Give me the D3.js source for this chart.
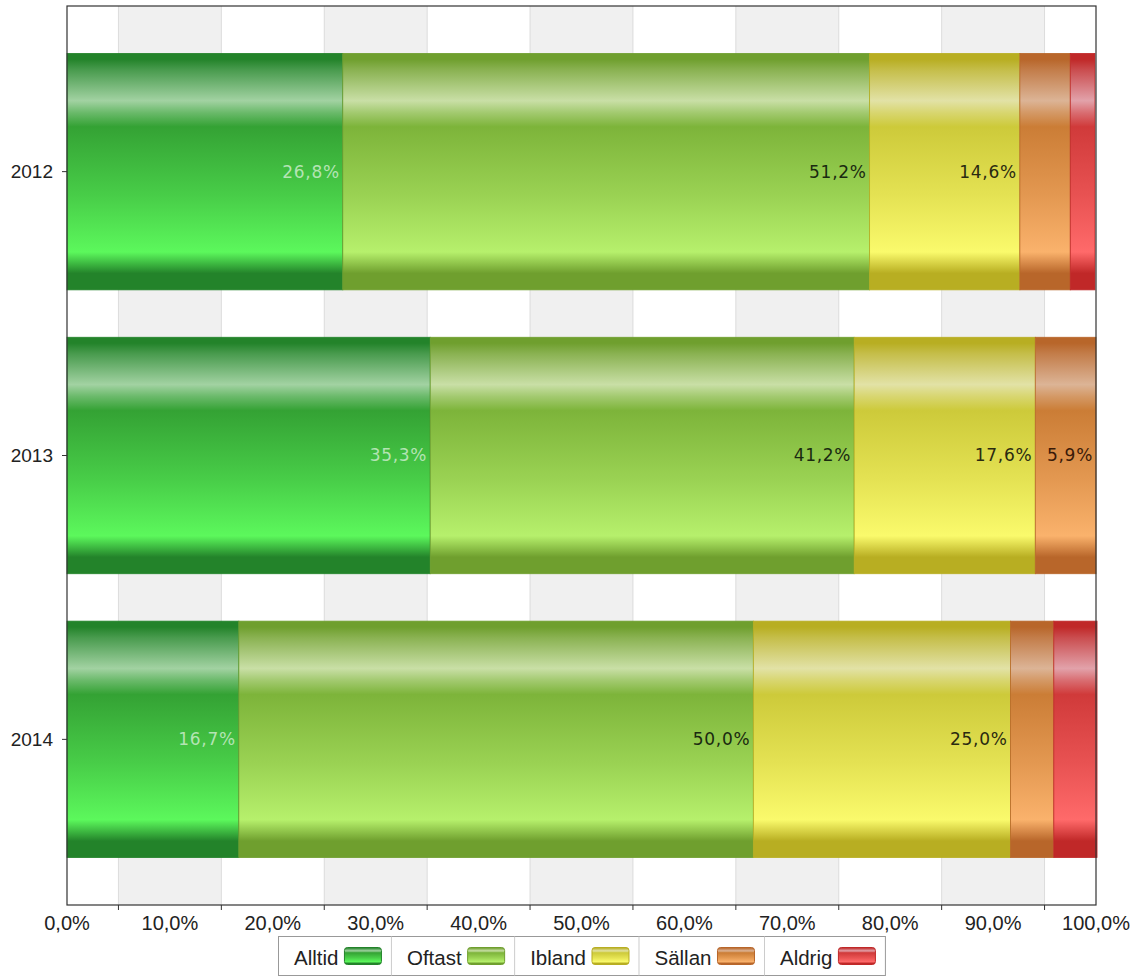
<!DOCTYPE html>
<html>
<head>
<meta charset="utf-8">
<script src="https://cdn.jsdelivr.net/npm/d3@7"></script>
<style>
  body { margin: 0; background: #fff; }
  svg { display: block; }
</style>
</head>
<body>
<div id="chart"></div>
<script>
const years = ["2012", "2013", "2014"]
const series = ["Alltid", "Oftast", "Ibland", "Sällan", "Aldrig"]
// share in percent, one array per answer
const alltid = [26.8, 35.3, 16.7]
const oftast = [51.2, 41.2, 50.0]
const ibland = [14.6, 17.6, 25.0]
const sallan = [4.9, 5.9, 4.2]
const aldrig = [2.4, 0.0, 4.2]
const xTicks = [0, 10, 20, 30, 40, 50, 60, 70, 80, 90, 100]

const values = [alltid, oftast, ibland, sallan, aldrig]

// edge, highlight, mid, bright, label colour
const SERIES_COLORS = [
    ["#23832a", "#a2d2a2", "#34a234", "#5cf85c", "#b4e4b4"],
    ["#6f9f2e", "#c9dfa6", "#7db43a", "#b6f06c", "#1a2a10"],
    ["#b8ae22", "#e2e2a6", "#cdca3a", "#fafa6c", "#2a2a10"],
    ["#b8662a", "#dcb496", "#cb7d36", "#fab26c", "#3a1a08"],
    ["#c02828", "#e2a2aa", "#d03a3a", "#ff6a6a", "#2a0a0a"]
]

const WIDTH = 1135
const HEIGHT = 976
const margin = {top: 6, right: 39, bottom: 71, left: 67}
const plotW = WIDTH - margin.left - margin.right
const plotH = HEIGHT - margin.top - margin.bottom

const svg = d3.select("#chart").append("svg")
    .attr("width", WIDTH)
    .attr("height", HEIGHT)

const defs = svg.append("defs")

function makeGradient(id, c) {
    let g = defs.append("linearGradient")
        .attr("id", id)
        .attr("x1", 0).attr("y1", 0).attr("x2", 0).attr("y2", 1)
    let mix = (a, b, t) => d3.interpolateRgb(a, b)(t)
    let stops = [
        [0, c[0]], [0.025, c[0]], [0.07, mix(c[0], c[1], 0.3)], [0.2, c[1]],
        [0.25, mix(c[1], c[2], 0.5)], [0.31, c[2]],
        [0.6, mix(c[2], c[3], 0.5)], [0.84, c[3]], [0.93, c[0]], [1, c[0]]
    ]
    stops.forEach(s => g.append("stop").attr("offset", s[0]).attr("stop-color", s[1]))
}
series.forEach((s, i) => makeGradient("grad" + i, SERIES_COLORS[i]))

const x = d3.scaleLinear().domain([0, 100]).range([0, plotW])
const y = d3.scaleBand().domain(years).range([0, plotH]).paddingInner(0.167).paddingOuter(0.167)

const g = svg.append("g").attr("transform", `translate(${margin.left},${margin.top})`)

// alternate shaded bands between the tick marks (which sit half-way between labels)
const bandEdges = d3.range(5, 100, 10)
bandEdges.forEach((v, i) => {
    if (i % 2 === 0 && i + 1 < bandEdges.length) {
        g.append("rect")
            .attr("x", x(v)).attr("y", 0)
            .attr("width", x(bandEdges[i + 1]) - x(v)).attr("height", plotH)
            .attr("fill", "#f0f0f0")
    }
})
bandEdges.forEach(v => {
    g.append("line")
        .attr("x1", x(v)).attr("x2", x(v)).attr("y1", 0).attr("y2", plotH)
        .attr("stroke", "#dcdcdc").attr("stroke-width", 1)
})

// stacked bars
const stackData = years.map((yr, j) => {
    let obj = {year: yr}
    series.forEach((s, i) => obj[s] = values[i][j])
    return obj
})
const stacked = d3.stack().keys(series)(stackData)

stacked.forEach((layer, i) => {
    let lg = g.append("g")
    lg.selectAll("rect").data(layer).join("rect")
        .attr("x", d => x(d[0]))
        .attr("y", d => y(d.data.year))
        .attr("width", d => Math.max(0, x(d[1]) - x(d[0])))
        .attr("height", y.bandwidth())
        .attr("fill", `url(#grad${i})`)
        .attr("stroke", d => (d[1] - d[0]) > 0 ? SERIES_COLORS[i][0] : "none")
        .attr("stroke-width", 0.8)
    lg.selectAll("text").data(layer.filter(d => d[1] - d[0] >= 5)).join("text")
        .attr("x", d => x(d[1]) - 3)
        .attr("y", d => y(d.data.year) + y.bandwidth() / 2)
        .attr("dy", "0.35em")
        .attr("text-anchor", "end")
        .attr("font-family", "DejaVu Sans, Verdana, sans-serif")
        .attr("font-size", 17)
        .attr("letter-spacing", 0.7)
        .attr("fill", SERIES_COLORS[i][4])
        .text(d => (d[1] - d[0]).toFixed(1).replace(".", ",") + "%")
})

// plot frame
g.append("rect")
    .attr("x", 0).attr("y", 0).attr("width", plotW).attr("height", plotH)
    .attr("fill", "none").attr("stroke", "#333").attr("stroke-width", 1.2)

// x axis: labels at round values, ticks half-way between
const xAxisG = g.append("g").attr("transform", `translate(0,${plotH})`)
xAxisG.selectAll("line").data(bandEdges).join("line")
    .attr("x1", d => x(d)).attr("x2", d => x(d)).attr("y1", 0).attr("y2", 5)
    .attr("stroke", "#333")
xAxisG.selectAll("text").data(xTicks).join("text")
    .attr("x", d => x(d))
    .attr("y", 25)
    .attr("text-anchor", "middle")
    .attr("font-family", "Liberation Sans, Arial, sans-serif")
    .attr("font-size", 20)
    .attr("fill", "#222")
    .text(d => d.toFixed(1).replace(".", ",") + "%")

// y axis labels
const yAxisG = g.append("g")
yAxisG.selectAll("line").data(years).join("line")
    .attr("x1", -5).attr("x2", 0)
    .attr("y1", d => y(d) + y.bandwidth() / 2).attr("y2", d => y(d) + y.bandwidth() / 2)
    .attr("stroke", "#333")
yAxisG.selectAll("text").data(years).join("text")
    .attr("x", -14)
    .attr("y", d => y(d) + y.bandwidth() / 2)
    .attr("dy", "0.35em")
    .attr("text-anchor", "end")
    .attr("font-family", "Liberation Sans, Arial, sans-serif")
    .attr("font-size", 19)
    .attr("fill", "#222")
    .text(d => d)

// legend
const legend = svg.append("g").attr("transform", "translate(278.5,936.5)")
const LEG_H = 39
const PAD_L = 15.5, GAP = 6, SW_W = 37, SW_H = 17, PAD_R = 10
let cursor = 0
const itemEdges = [0]
series.forEach((s, i) => {
    let item = legend.append("g").attr("transform", `translate(${cursor},0)`)
    let t = item.append("text")
        .attr("x", PAD_L).attr("y", 28)
        .attr("font-family", "Liberation Sans, Arial, sans-serif")
        .attr("font-size", 20.5)
        .attr("fill", "#222")
        .text(s)
    let tw = t.node().getComputedTextLength()
    item.append("rect")
        .attr("x", PAD_L + tw + GAP).attr("y", 11)
        .attr("width", SW_W).attr("height", SW_H)
        .attr("rx", 3).attr("ry", 3)
        .attr("fill", `url(#grad${i})`)
        .attr("stroke", SERIES_COLORS[i][0]).attr("stroke-width", 1)
    cursor += PAD_L + tw + GAP + SW_W + PAD_R
    itemEdges.push(cursor)
})
legend.insert("rect", ":first-child")
    .attr("x", 0).attr("y", 0).attr("width", cursor).attr("height", LEG_H)
    .attr("fill", "#fff").attr("stroke", "#999")
legend.selectAll("line.sep").data(itemEdges.slice(1, -1)).join("line")
    .attr("class", "sep")
    .attr("x1", d => d).attr("x2", d => d).attr("y1", 0).attr("y2", LEG_H)
    .attr("stroke", "#ccc")
</script>
</body>
</html>
